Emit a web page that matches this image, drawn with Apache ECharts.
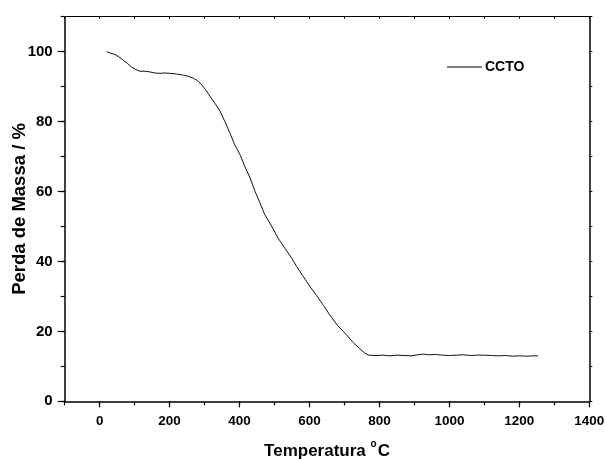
<!DOCTYPE html>
<html><head><meta charset="utf-8">
<script src="https://cdn.jsdelivr.net/npm/echarts@6/dist/echarts.min.js"></script>
<style>html,body{margin:0;padding:0;background:#fff}#c{width:606px;height:459px}</style>
</head><body><div id="c"></div>
<script>
var temperature = [20,30,44,55,67,80,91,103,115,130,144,158,172,186,201,220,239,255,268,280,291,303,315,330,344,358,372,385,401,415,430,444,458,472,490,510,530,550,563,580,600,620,640,658,680,706,725,744,758,768,790,810,830,850,870,890,910,925,940,960,980,1000,1020,1040,1060,1080,1100,1120,1140,1160,1180,1200,1220,1240,1253];
var massLoss = [100.0,99.6,99.2,98.5,97.6,96.6,95.6,94.9,94.4,94.4,94.2,93.9,93.8,93.9,93.8,93.6,93.3,92.9,92.4,91.7,90.6,89.1,87.3,85.2,83.0,80.0,76.8,73.6,70.6,67.2,63.9,60.1,56.8,53.4,50.4,46.7,43.7,40.8,38.6,36.0,33.0,30.3,27.4,24.7,21.7,19.0,16.8,15.0,13.8,13.2,13.1,13.2,13.0,13.2,13.1,13.0,13.3,13.5,13.3,13.4,13.2,13.1,13.2,13.3,13.1,13.2,13.2,13.1,13.0,13.1,12.9,13.0,12.9,13.0,13.0];
var xTickLabels = [0,200,400,600,800,1000,1200,1400];
var yTickLabels = [0,20,40,60,80,100];
var seriesName = 'CCTO';

var FONT = '"Liberation Sans", Arial, sans-serif';
var chart = echarts.init(document.getElementById('c'), null, {renderer:'canvas'});
var grid = {left:64.7, right:16.7, top:16.7, bottom:57.7, containLabel:false, outerBoundsMode:'none'};
var data = temperature.map(function(t,i){return [t, massLoss[i]];});
var axLine = {show:true, onZero:false, lineStyle:{color:'#000', width:1.5}};
var plain = function(v){return String(v);};
chart.setOption({
  animation:false,
  grid: grid,
  legend: {
    data:[seriesName], left:447, top:60, padding:0, itemWidth:35, itemHeight:1.5, itemGap:4,
    icon:'rect',
    textStyle:{fontFamily:FONT, fontWeight:'bold', fontSize:14, color:'#000', padding:[0,0,0,-2]}
  },
  xAxis: [
    {type:'value', min:-100, max:1400, interval:100, position:'bottom',
     axisLine:axLine, axisTick:{show:true, length:4, lineStyle:{color:'#000', width:1.2}},
     axisLabel:{show:false}, splitLine:{show:false},
     name:'{a|Temperatura }{s|o}{a|C}', nameLocation:'middle', nameGap:38, nameMoveOverlap:false,
     nameTextStyle:{rich:{a:{fontFamily:FONT, fontWeight:'bold', fontSize:17, color:'#000'},
                          s:{fontFamily:FONT, fontWeight:'bold', fontSize:10, color:'#000', verticalAlign:'top', padding:[0,1,14,0]}}}},
    {type:'value', min:-100, max:1400, position:'bottom', gridIndex:0,
     axisLine:{show:false, onZero:false}, splitLine:{show:false},
     axisTick:{show:true, length:6, customValues:xTickLabels, lineStyle:{color:'#000', width:1.2}},
     axisLabel:{show:true, customValues:xTickLabels, formatter:plain, margin:13, color:'#000', fontFamily:FONT, fontWeight:'bold', fontSize:13.5}},
    {type:'value', min:-100, max:1400, interval:100, position:'top',
     axisLine:{show:true, onZero:false, lineStyle:{color:'#000', width:1}}, splitLine:{show:false},
     axisTick:{show:true, length:2, inside:true, lineStyle:{color:'#000', width:1}}, axisLabel:{show:false}}
  ],
  yAxis: [
    {type:'value', min:0, max:110, interval:10, position:'left',
     axisLine:axLine, axisTick:{show:true, length:4, lineStyle:{color:'#000', width:1.2}},
     axisLabel:{show:false}, splitLine:{show:false},
     name:'Perda de Massa / %', nameLocation:'middle', nameGap:35, nameRotate:90, nameMoveOverlap:false,
     nameTextStyle:{fontFamily:FONT, fontWeight:'bold', fontSize:18.5, color:'#000'}},
    {type:'value', min:0, max:110, position:'left',
     axisLine:{show:false, onZero:false}, splitLine:{show:false},
     axisTick:{show:true, length:7, customValues:yTickLabels, lineStyle:{color:'#000', width:1.2}},
     axisLabel:{show:true, customValues:yTickLabels, formatter:plain, margin:12, color:'#000', fontFamily:FONT, fontWeight:'bold', fontSize:15}},
    {type:'value', min:0, max:110, interval:10, position:'right',
     axisLine:{show:true, onZero:false, lineStyle:{color:'#000', width:1.5}}, splitLine:{show:false},
     axisTick:{show:true, length:3, lineStyle:{color:'#000', width:1}}, axisLabel:{show:false}}
  ],
  series: [{
    name:seriesName, type:'line', xAxisIndex:0, yAxisIndex:0, data:data,
    showSymbol:false, symbol:'none', smooth:false,
    lineStyle:{color:'#111', width:1}, itemStyle:{color:'#555'}
  }]
});
</script></body></html>
